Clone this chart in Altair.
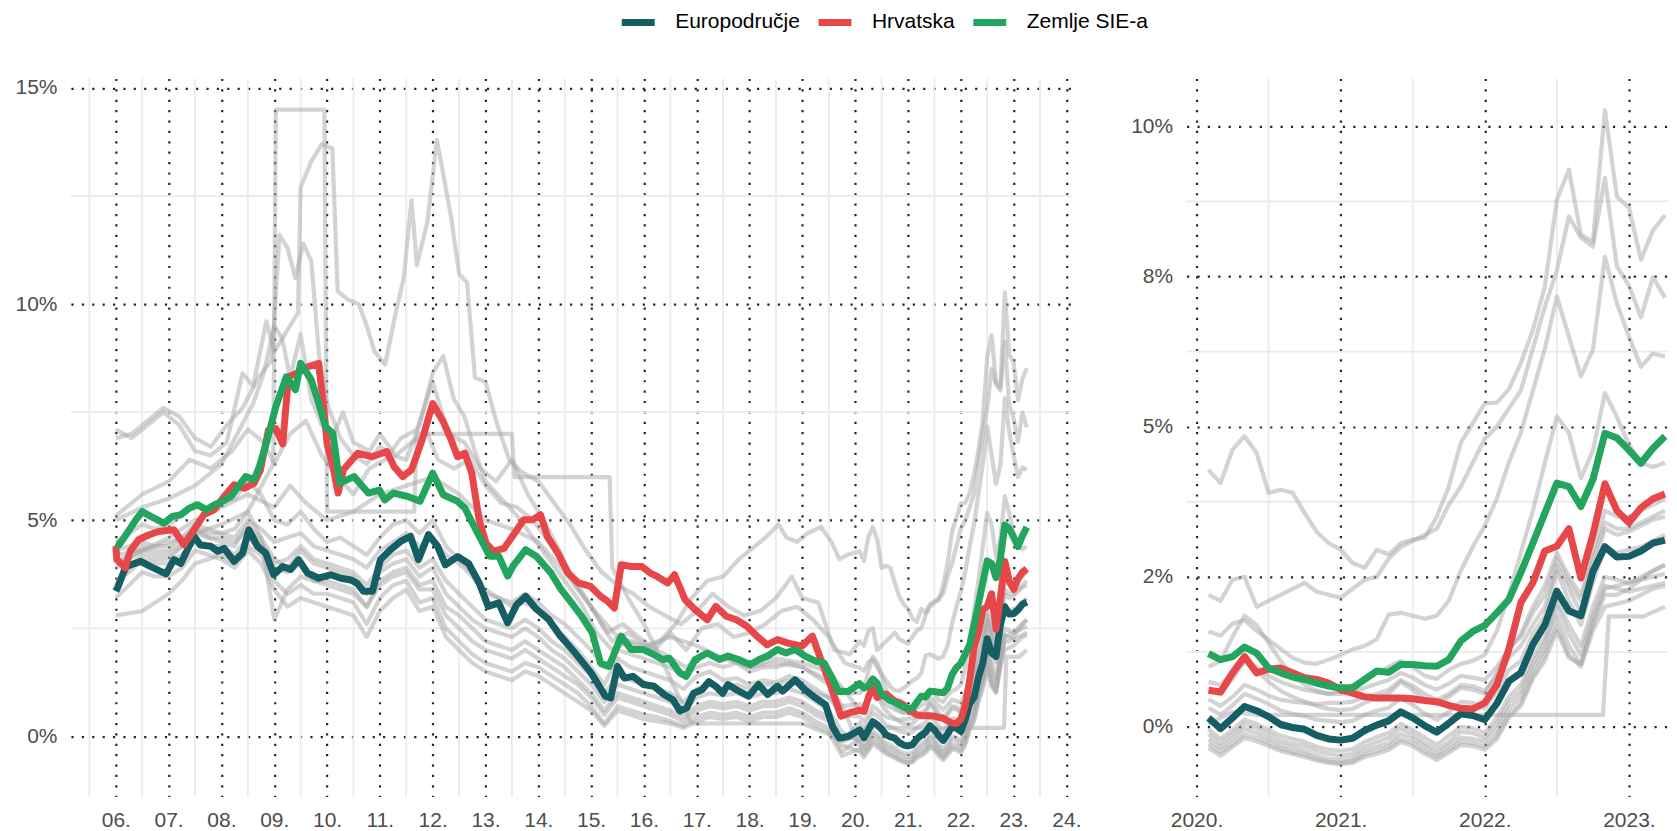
import altair as alt
import pandas as pd

FONT = "Liberation Sans"
DOT = "#1f2733"
MINOR = "#ebebeb"
GREY = "#a8a8a8"

SERIES_NAMES = ["Europodručje", "Hrvatska", "Zemlje SIE-a"]
SERIES_COLORS = ["#155e63", "#e8474a", "#23a55e"]

LEFT_X_VALUES = list(range(2006, 2025))
LEFT_X_LABELS = ["06.", "07.", "08.", "09.", "10.", "11.", "12.", "13.", "14.", "15.",
                 "16.", "17.", "18.", "19.", "20.", "21.", "22.", "23.", "24."]
LEFT_Y_VALUES = [0, 5, 10, 15]
LEFT_Y_LABELS = ["0%", "5%", "10%", "15%"]
RIGHT_X_VALUES = [2020, 2021, 2022, 2023]
RIGHT_X_LABELS = ["2020.", "2021.", "2022.", "2023."]
RIGHT_Y_VALUES = [0, 2.5, 5, 7.5, 10]
RIGHT_Y_LABELS = ["0%", "2%", "5%", "8%", "10%"]

LEFT_MINOR_X = [2005.5, 2006.5, 2007.5, 2008.5, 2009.5, 2010.5, 2011.5, 2012.5, 2013.5, 2014.5,
                2015.5, 2016.5, 2017.5, 2018.5, 2019.5, 2020.5, 2021.5, 2022.5, 2023.5]
LEFT_MINOR_Y = [2.5, 7.5, 12.5]
RIGHT_MINOR_X = [2020.5, 2021.5, 2022.5]
RIGHT_MINOR_Y = [1.25, 3.75, 6.25, 8.75]

# monthly dates Jan 2020 .. Mar 2023 (month-end, decimal years) and quarterly 2006-2019
MONTHS = [2020 + (k + 1) / 12 for k in range(39)]
QUARTERS = [2006 + q / 4 for q in range(56)]

# ---------------- main series ----------------
EA_EARLY = [(2006.0, 3.36), (2006.03, 3.43), (2006.19, 3.93), (2006.47, 4.05), (2006.66, 3.93),
            (2006.85, 3.82), (2006.95, 3.76), (2007.1, 4.09), (2007.23, 4.0), (2007.48, 4.63),
            (2007.6, 4.43), (2007.8, 4.4), (2007.93, 4.28), (2008.05, 4.35), (2008.24, 4.05),
            (2008.4, 4.24), (2008.52, 4.78), (2008.68, 4.4), (2008.84, 4.24), (2008.99, 3.74),
            (2009.16, 3.93), (2009.31, 3.86), (2009.46, 4.09), (2009.63, 3.78), (2009.84, 3.66),
            (2010.07, 3.74), (2010.26, 3.66), (2010.45, 3.62), (2010.57, 3.54), (2010.69, 3.36),
            (2010.86, 3.36), (2011.01, 4.09), (2011.2, 4.32), (2011.39, 4.51), (2011.58, 4.63),
            (2011.73, 4.09), (2011.92, 4.67), (2012.09, 4.4), (2012.24, 3.97), (2012.47, 4.16),
            (2012.68, 4.0), (2012.88, 3.55), (2013.05, 3.01), (2013.25, 3.09), (2013.42, 2.63),
            (2013.59, 3.05), (2013.76, 3.24), (2013.96, 2.95), (2014.2, 2.7), (2014.4, 2.35),
            (2014.69, 1.94), (2015.0, 1.47), (2015.27, 0.93), (2015.37, 0.89), (2015.5, 1.62),
            (2015.63, 1.35), (2015.79, 1.39), (2015.99, 1.2), (2016.19, 1.16), (2016.38, 0.97),
            (2016.55, 0.85), (2016.68, 0.59), (2016.81, 0.66), (2016.94, 1.0), (2017.1, 1.08),
            (2017.23, 1.27), (2017.36, 1.16), (2017.49, 1.0), (2017.59, 1.2), (2017.75, 1.08),
            (2017.98, 0.93), (2018.17, 1.2), (2018.34, 0.97), (2018.53, 1.16), (2018.63, 1.05),
            (2018.86, 1.31), (2019.05, 1.08), (2019.25, 0.89), (2019.44, 0.73), (2019.57, 0.23),
            (2019.7, -0.04), (2019.87, 0.0)]
EA_MONTHLY = [0.15, -0.03, 0.15, 0.34, 0.27, 0.17, 0.04, -0.01, -0.04, -0.14,
              -0.2, -0.22, -0.19, -0.06, 0.03, 0.1, 0.25, 0.15, 0.02, -0.09,
              0.06, 0.22, 0.19, 0.12, 0.39, 0.76, 0.9, 1.37, 1.7, 2.26,
              1.93, 1.85, 2.59, 3.0, 2.83, 2.84, 2.93, 3.06, 3.11]

HR_EARLY = [(2006.0, 4.4), (2006.02, 4.09), (2006.18, 3.9), (2006.27, 4.28), (2006.43, 4.55),
            (2006.62, 4.66), (2006.81, 4.74), (2007.1, 4.78), (2007.29, 4.43), (2007.48, 4.78),
            (2007.67, 5.13), (2007.86, 5.24), (2008.05, 5.55), (2008.24, 5.82), (2008.43, 5.74),
            (2008.62, 5.86), (2008.74, 6.17), (2008.89, 7.09), (2009.03, 7.12), (2009.16, 6.77),
            (2009.27, 8.32), (2009.43, 8.4), (2009.64, 8.55), (2009.84, 8.63), (2009.94, 7.56),
            (2010.0, 6.77), (2010.11, 6.24), (2010.21, 5.63), (2010.31, 6.17), (2010.58, 6.55),
            (2010.85, 6.47), (2011.13, 6.59), (2011.27, 6.24), (2011.43, 6.01), (2011.6, 6.17),
            (2011.8, 6.86), (2012.0, 7.7), (2012.2, 7.28), (2012.35, 6.86), (2012.47, 6.47),
            (2012.61, 6.55), (2012.74, 6.09), (2012.88, 5.01), (2013.01, 4.47), (2013.15, 4.28),
            (2013.35, 4.35), (2013.55, 4.7), (2013.72, 5.01), (2013.89, 5.01), (2014.04, 5.13),
            (2014.17, 4.63), (2014.37, 4.24), (2014.56, 3.78), (2014.76, 3.55), (2014.99, 3.47),
            (2015.18, 3.24), (2015.31, 3.13), (2015.44, 2.97), (2015.57, 3.97), (2015.76, 3.93),
            (2015.96, 3.93), (2016.12, 3.78), (2016.25, 3.7), (2016.45, 3.55), (2016.58, 3.74),
            (2016.78, 3.16), (2016.97, 2.93), (2017.2, 2.7), (2017.36, 3.01), (2017.56, 2.78),
            (2017.75, 2.7), (2017.95, 2.55), (2018.14, 2.32), (2018.33, 2.12), (2018.53, 2.24),
            (2018.73, 2.16), (2018.99, 2.09), (2019.19, 2.32), (2019.35, 1.78), (2019.54, 1.16),
            (2019.73, 0.47), (2019.9, 0.55)]
HR_MONTHLY = [0.61, 0.58, 0.9, 1.17, 0.9, 0.96, 0.98, 0.9, 0.82, 0.79,
              0.73, 0.62, 0.56, 0.5, 0.48, 0.48, 0.48, 0.47, 0.44, 0.42,
              0.36, 0.31, 0.3, 0.4, 0.7, 1.29, 2.07, 2.4, 2.93, 3.01,
              3.3, 2.48, 3.2, 4.05, 3.6, 3.4, 3.65, 3.8, 3.88]

CEE_EARLY = [(2006.0, 4.47), (2006.06, 4.43), (2006.19, 4.66), (2006.38, 5.01), (2006.5, 5.2),
             (2006.66, 5.09), (2006.79, 5.01), (2006.91, 4.93), (2007.07, 5.09), (2007.23, 5.13),
             (2007.39, 5.28), (2007.55, 5.36), (2007.71, 5.24), (2007.87, 5.36), (2008.02, 5.44),
             (2008.18, 5.55), (2008.34, 5.82), (2008.46, 6.01), (2008.62, 5.94), (2008.72, 6.25),
             (2008.85, 6.78), (2009.03, 7.63), (2009.23, 8.32), (2009.4, 8.02), (2009.5, 8.63),
             (2009.7, 8.25), (2009.84, 7.71), (2009.97, 7.17), (2010.11, 7.01), (2010.24, 5.86),
             (2010.51, 6.01), (2010.78, 5.63), (2010.99, 5.7), (2011.09, 5.47), (2011.26, 5.63),
             (2011.53, 5.55), (2011.76, 5.44), (2012.0, 6.09), (2012.2, 5.59), (2012.47, 5.44),
             (2012.61, 5.28), (2012.88, 4.63), (2013.08, 4.17), (2013.25, 4.17), (2013.42, 3.71),
             (2013.52, 3.94), (2013.76, 4.32), (2013.96, 4.17), (2014.24, 3.78), (2014.43, 3.4),
             (2014.63, 3.09), (2014.82, 2.78), (2015.02, 2.4), (2015.18, 1.69), (2015.34, 1.62),
             (2015.57, 2.32), (2015.76, 2.01), (2015.99, 2.01), (2016.19, 1.89), (2016.35, 1.78),
             (2016.48, 1.81), (2016.68, 1.47), (2016.8, 1.39), (2016.97, 1.78), (2017.2, 1.93),
             (2017.43, 1.78), (2017.59, 1.86), (2017.79, 1.78), (2018.01, 1.66), (2018.18, 1.78),
             (2018.34, 1.86), (2018.53, 2.01), (2018.69, 1.93), (2018.86, 2.01), (2019.05, 1.86),
             (2019.25, 1.74), (2019.41, 1.7), (2019.55, 1.39), (2019.68, 1.04), (2019.87, 1.04)]
CEE_MONTHLY = [1.22, 1.12, 1.17, 1.33, 1.23, 0.98, 0.9, 0.83, 0.79, 0.73,
               0.68, 0.65, 0.65, 0.79, 0.93, 0.91, 1.04, 1.04, 1.02, 1.01,
               1.12, 1.43, 1.59, 1.69, 1.9, 2.12, 2.57, 3.06, 3.56, 4.06,
               4.0, 3.67, 4.12, 4.89, 4.81, 4.61, 4.39, 4.64, 4.84]

# ---------------- grey (individual countries) ----------------
G1_EARLY = [(2006.0, 6.9), (2006.3, 7.0), (2006.6, 7.3), (2006.9, 7.6), (2007.2, 7.4), (2007.5, 6.9),
            (2007.8, 6.7), (2008.1, 7.2), (2008.4, 7.6), (2008.7, 8.3), (2008.95, 8.7), (2009.1, 11.6),
            (2009.25, 11.3), (2009.4, 10.6), (2009.55, 11.4), (2009.7, 11.0), (2009.85, 8.8),
            (2010.0, 7.7), (2010.25, 6.9), (2010.5, 6.5), (2010.75, 6.3), (2011.0, 6.7), (2011.25, 6.5),
            (2011.5, 6.4), (2011.75, 7.2), (2012.0, 8.4), (2012.2, 8.8), (2012.4, 7.8), (2012.6, 7.4),
            (2012.8, 6.6), (2013.0, 5.9), (2013.3, 5.5), (2013.6, 5.1), (2013.9, 4.6), (2014.2, 4.1),
            (2014.5, 3.6), (2014.8, 3.1), (2015.1, 2.4), (2015.4, 2.0), (2015.7, 2.2), (2016.0, 2.0),
            (2016.3, 2.2), (2016.6, 2.6), (2016.9, 3.2), (2017.2, 3.6), (2017.5, 3.7), (2017.8, 4.1),
            (2018.0, 4.3), (2018.3, 4.6), (2018.55, 4.9), (2018.7, 4.6), (2018.9, 4.5), (2019.1, 4.7),
            (2019.35, 4.85), (2019.55, 4.5), (2019.7, 4.1), (2019.85, 4.2)]
G1_MONTHLY = [4.28, 4.06, 4.62, 4.84, 4.56, 3.9, 3.95, 3.9, 3.56, 3.25,
              3.06, 2.95, 2.73, 2.65, 2.95, 2.87, 3.06, 3.12, 3.15, 3.5,
              4.0, 4.73, 5.06, 5.39, 5.4, 5.62, 6.06, 6.61, 7.33, 8.78,
              9.28, 8.2, 8.08, 10.27, 8.83, 8.65, 7.78, 8.27, 8.52]

G2_EARLY = [(2006.0, 7.1), (2006.3, 6.9), (2006.6, 7.2), (2006.9, 7.5), (2007.2, 7.2), (2007.5, 6.6),
            (2007.8, 6.5), (2008.1, 6.8), (2008.4, 8.4), (2008.6, 8.1), (2008.85, 9.6), (2009.0, 8.9),
            (2009.2, 9.3), (2009.45, 9.8), (2009.5, 12.7), (2009.7, 13.3), (2009.9, 13.7),
            (2010.1, 13.6), (2010.2, 10.3), (2010.4, 10.1), (2010.6, 10.0), (2010.75, 9.5),
            (2010.9, 8.9), (2011.1, 8.6), (2011.3, 9.8), (2011.45, 10.6), (2011.6, 12.4),
            (2011.7, 10.9), (2011.9, 11.9), (2012.08, 13.8), (2012.2, 13.0), (2012.35, 12.0),
            (2012.5, 10.7), (2012.65, 10.5), (2012.8, 8.3), (2013.0, 8.2), (2013.2, 7.3),
            (2013.45, 6.4), (2013.7, 6.1), (2014.0, 5.9), (2014.3, 5.4), (2014.6, 4.9), (2014.9, 4.3),
            (2015.2, 3.8), (2015.5, 3.5), (2015.8, 3.3), (2016.1, 3.0), (2016.4, 2.8), (2016.7, 2.6),
            (2017.0, 2.9), (2017.3, 3.3), (2017.6, 3.0), (2017.9, 2.8), (2018.2, 2.9), (2018.5, 3.2),
            (2018.8, 3.7), (2019.0, 3.2), (2019.3, 3.1), (2019.6, 2.0), (2019.9, 1.9)]
G2_MONTHLY = [2.2, 2.1, 2.45, 2.5, 2.0, 2.1, 2.2, 2.3, 2.4, 2.25,
              2.2, 2.15, 2.3, 2.45, 2.5, 2.8, 3.0, 3.1, 3.2, 3.3,
              3.7, 4.0, 4.4, 4.8, 5.0, 5.3, 5.6, 6.3, 7.0, 7.6,
              8.5, 8.15, 8.0, 9.14, 7.67, 7.35, 6.82, 7.49, 7.15]

G3_EARLY = [(2006.0, 5.1), (2006.5, 5.6), (2007.0, 5.9), (2007.4, 6.4), (2007.8, 6.2), (2008.2, 6.6),
            (2008.5, 7.1), (2008.8, 6.8), (2009.0, 6.3), (2009.3, 7.0), (2009.6, 7.3), (2009.9, 6.5),
            (2010.2, 6.0), (2010.5, 5.6), (2010.8, 6.2), (2011.1, 6.4), (2011.4, 6.9), (2011.7, 7.1),
            (2012.0, 8.2), (2012.3, 7.0), (2012.6, 6.8), (2012.9, 6.2), (2013.2, 5.9), (2013.5, 6.4),
            (2013.8, 5.6), (2014.1, 5.0), (2014.4, 4.3), (2014.7, 3.5), (2015.0, 3.0), (2015.3, 2.4),
            (2015.6, 2.6), (2015.9, 2.3), (2016.2, 2.0), (2016.5, 2.4), (2016.8, 2.0), (2017.1, 2.5),
            (2017.4, 2.6), (2017.7, 2.3), (2018.0, 2.4), (2018.3, 2.6), (2018.6, 2.9), (2018.9, 3.0),
            (2019.2, 2.7), (2019.5, 2.3), (2019.8, 1.7)]
G3_MONTHLY = [1.59, 1.52, 1.72, 1.78, 1.6, 1.45, 1.3, 1.15, 1.07, 1.05,
              1.12, 1.2, 1.29, 1.35, 1.46, 1.87, 1.9, 1.85, 1.8, 1.85,
              2.1, 2.6, 3.0, 3.35, 3.8, 4.4, 4.9, 5.6, 6.3, 7.17,
              6.5, 5.84, 6.28, 7.83, 7.05, 6.5, 6.0, 6.22, 6.17]

G4_EARLY = [(2006.0, 4.0), (2006.5, 4.3), (2007.0, 4.6), (2007.5, 5.0), (2008.0, 5.3), (2008.5, 5.6),
            (2009.0, 5.3), (2009.3, 5.8), (2009.6, 5.4), (2010.0, 5.0), (2010.5, 5.2), (2011.0, 5.6),
            (2011.5, 5.8), (2012.0, 6.0), (2012.5, 5.6), (2013.0, 5.0), (2013.5, 4.8), (2014.0, 4.5),
            (2014.5, 3.8), (2015.0, 3.0), (2015.5, 2.3), (2016.0, 2.1), (2016.5, 2.3), (2017.0, 2.1),
            (2017.5, 1.8), (2018.0, 1.6), (2018.5, 1.7), (2019.0, 1.6), (2019.5, 1.3), (2019.9, 1.0)]
G4_MONTHLY = [1.0, 1.1, 1.5, 1.85, 1.7, 1.4, 1.1, 0.85, 0.7, 0.6,
              0.55, 0.6, 0.7, 0.8, 0.9, 1.0, 1.1, 1.0, 0.85, 0.8,
              0.95, 1.05, 1.1, 1.2, 1.6, 2.2, 2.9, 3.6, 4.4, 5.17,
              4.9, 4.14, 4.6, 5.56, 5.16, 4.7, 4.4, 4.33, 4.4]

G5_EARLY = [(2006.0, 5.0), (2006.5, 5.3), (2007.0, 5.5), (2007.5, 5.8), (2008.0, 6.3), (2008.3, 7.0),
            (2008.6, 7.7), (2008.8, 8.4), (2009.0, 9.5), (2009.15, 9.2), (2009.3, 8.3), (2009.5, 9.3),
            (2009.7, 7.8), (2009.9, 7.2), (2010.1, 6.9), (2010.3, 7.5), (2010.5, 6.8), (2010.8, 6.6),
            (2011.0, 7.0), (2011.3, 6.5), (2011.6, 6.8), (2011.9, 7.0), (2012.1, 6.4), (2012.4, 6.2),
            (2012.7, 6.4), (2013.0, 5.8), (2013.3, 5.4), (2013.6, 5.3), (2013.9, 5.0), (2014.2, 4.5),
            (2014.5, 4.0), (2014.8, 3.4), (2015.1, 2.8), (2015.4, 2.2), (2015.7, 2.4), (2016.0, 2.1),
            (2016.4, 1.9), (2016.8, 1.6), (2017.2, 1.9), (2017.6, 1.8), (2018.0, 1.6), (2018.5, 1.8),
            (2019.0, 1.7), (2019.5, 1.5), (2019.9, 0.9)]
G5_MONTHLY = [0.6, 0.55, 0.8, 1.1, 0.95, 0.75, 0.6, 0.5, 0.42, 0.35,
              0.3, 0.28, 0.3, 0.4, 0.48, 0.55, 0.75, 0.62, 0.45, 0.38,
              0.5, 0.65, 0.62, 0.55, 0.9, 1.3, 1.55, 2.0, 2.35, 2.9,
              2.5, 2.2, 2.9, 3.6, 3.5, 3.5, 3.6, 3.7, 3.8]

G6_ALL = [(2006.0, 4.2), (2006.5, 4.3), (2007.0, 4.5), (2007.5, 4.7), (2008.0, 4.9), (2008.5, 5.2),
          (2008.98, 6.3), (2009.03, 14.5), (2009.95, 14.5), (2010.0, 5.2), (2011.65, 5.2),
          (2011.7, 7.0), (2013.5, 7.0), (2013.55, 6.0), (2015.35, 6.0), (2015.4, 3.9), (2015.7, 3.2),
          (2016.0, 2.6), (2016.4, 1.6), (2016.9, 0.3), (2019.0, 0.3), (2019.4, 0.1), (2019.8, -0.1),
          (2020.083, 0.05), (2020.25, 0.25), (2020.42, 0.2), (2022.82, 0.2), (2022.86, 1.84),
          (2023.1, 1.84), (2023.25, 2.0)]

B1_Q = [4.3, 4.4, 4.5, 4.4, 4.4, 4.6, 4.9, 4.8, 4.7, 4.6, 5.0, 4.8, 4.5, 4.6, 4.7, 4.4,
        4.3, 4.2, 4.1, 3.9, 4.3, 4.5, 4.7, 4.4, 4.6, 4.2, 4.0, 3.7, 3.3, 3.2, 3.0, 3.1,
        2.9, 2.6, 2.3, 2.0, 1.6, 1.2, 1.8, 1.6, 1.5, 1.4, 1.3, 1.1, 1.4, 1.5, 1.3, 1.35,
        1.2, 1.3, 1.25, 1.4, 1.3, 1.1, 0.9, 0.5]
B1_M = [0.46, 0.35, 0.5, 0.7, 0.62, 0.52, 0.45, 0.42, 0.4, 0.38, 0.4, 0.4, 0.42, 0.5, 0.55,
        0.62, 0.78, 0.68, 0.55, 0.45, 0.55, 0.7, 0.68, 0.6, 0.85, 1.15, 1.35, 1.7, 2.0, 2.68,
        2.3, 1.9, 2.6, 3.3, 3.2, 3.25, 3.35, 3.45, 3.5]
B2_Q = [3.6, 3.8, 4.1, 4.0, 4.0, 4.2, 4.5, 4.4, 4.4, 4.2, 4.6, 4.3, 3.9, 3.8, 4.0, 3.6,
        3.5, 3.4, 3.3, 3.0, 3.6, 3.8, 3.9, 3.5, 3.6, 3.0, 2.8, 2.5, 2.2, 2.1, 2.0, 2.2,
        2.0, 1.8, 1.6, 1.3, 1.0, 0.6, 1.0, 0.9, 0.8, 0.7, 0.6, 0.45, 0.7, 0.8, 0.75, 0.8,
        0.7, 0.8, 0.8, 0.9, 0.8, 0.6, 0.45, -0.1]
B2_M = [0.32, 0.2, 0.36, 0.55, 0.47, 0.38, 0.27, 0.22, 0.18, 0.12, 0.1, 0.08, 0.1, 0.2, 0.27,
        0.32, 0.47, 0.37, 0.22, 0.12, 0.25, 0.42, 0.4, 0.3, 0.6, 0.95, 1.1, 1.55, 1.85, 2.59,
        2.1, 1.7, 2.4, 3.0, 2.9, 2.95, 3.0, 3.1, 3.2]
B3_Q = [2.8, 2.85, 2.9, 3.1, 3.3, 3.6, 4.0, 4.1, 4.2, 4.0, 4.4, 4.2, 3.6, 3.3, 3.5, 3.3,
        3.3, 3.2, 3.1, 2.6, 3.2, 3.5, 3.6, 3.1, 3.2, 2.5, 2.2, 1.9, 1.7, 1.6, 1.5, 1.7,
        1.6, 1.4, 1.2, 1.0, 0.7, 0.3, 0.7, 0.6, 0.5, 0.45, 0.35, 0.25, 0.45, 0.55, 0.5, 0.55,
        0.45, 0.55, 0.55, 0.65, 0.55, 0.35, 0.2, -0.35]
B3_M = [-0.04, -0.2, -0.05, 0.12, 0.05, -0.05, -0.15, -0.2, -0.25, -0.33, -0.38, -0.4, -0.37,
        -0.25, -0.17, -0.1, 0.05, -0.05, -0.18, -0.3, -0.15, 0.0, -0.02, -0.1, 0.15, 0.5, 0.7,
        1.15, 1.5, 2.12, 1.7, 1.35, 2.0, 2.5, 2.45, 2.4, 2.45, 2.5, 2.55]
B4_Q = [3.5, 3.9, 4.2, 4.1, 4.1, 4.4, 4.8, 4.6, 4.5, 4.4, 4.9, 4.6, 4.1, 3.9, 4.3, 4.0,
        3.9, 3.8, 3.7, 3.3, 3.8, 4.0, 4.1, 3.7, 3.9, 3.3, 3.0, 2.7, 2.5, 2.4, 2.3, 2.5,
        2.3, 2.0, 1.8, 1.5, 1.2, 0.8, 1.2, 1.1, 1.0, 0.9, 0.8, 0.6, 0.9, 1.0, 0.95, 1.0,
        0.9, 1.0, 1.0, 1.1, 1.0, 0.8, 0.6, 0.1]
B4_M = [-0.12, -0.28, -0.12, 0.05, -0.02, -0.12, -0.23, -0.28, -0.32, -0.4, -0.45, -0.48,
        -0.45, -0.33, -0.25, -0.18, -0.03, -0.13, -0.27, -0.38, -0.25, -0.08, -0.1, -0.18, 0.05,
        0.4, 0.6, 1.05, 1.4, 2.01, 1.55, 1.2, 1.85, 2.35, 2.3, 2.25, 2.3, 2.35, 2.4]
B5_Q = [4.5, 4.7, 4.9, 4.8, 4.9, 5.1, 5.4, 5.3, 5.4, 5.5, 5.9, 5.6, 5.0, 4.9, 5.2, 4.8,
        4.5, 4.6, 4.4, 4.2, 4.6, 4.9, 5.0, 4.7, 5.0, 4.4, 4.1, 3.8, 3.4, 3.2, 3.1, 3.3,
        3.1, 2.8, 2.6, 2.3, 2.0, 1.6, 2.0, 1.9, 1.8, 1.7, 1.6, 1.4, 1.6, 1.7, 1.6, 1.7,
        1.5, 1.6, 1.6, 1.7, 1.6, 1.4, 1.2, 0.7]
B5_M = [-0.21, -0.35, -0.2, -0.03, -0.1, -0.2, -0.3, -0.35, -0.4, -0.48, -0.53, -0.55, -0.52,
        -0.4, -0.33, -0.27, -0.12, -0.2, -0.33, -0.45, -0.32, -0.18, -0.2, -0.25, -0.05, 0.3, 0.5,
        0.95, 1.3, 1.84, 1.35, 1.05, 1.7, 2.2, 2.2, 2.3, 2.45, 2.6, 2.7]
B6_Q = [3.2, 3.5, 3.8, 3.7, 3.7, 3.9, 4.3, 4.2, 4.1, 3.9, 4.3, 4.0, 3.4, 3.0, 3.2, 3.1,
        3.0, 2.9, 2.8, 2.3, 2.9, 3.2, 3.4, 2.9, 3.0, 2.3, 2.0, 1.7, 1.5, 1.4, 1.3, 1.5,
        1.4, 1.2, 1.0, 0.8, 0.6, 0.25, 0.6, 0.5, 0.4, 0.35, 0.3, 0.2, 0.35, 0.45, 0.4, 0.45,
        0.35, 0.45, 0.45, 0.55, 0.45, 0.25, 0.1, -0.45]
B6_M = [-0.29, -0.42, -0.28, -0.12, -0.18, -0.27, -0.36, -0.42, -0.46, -0.53, -0.58, -0.6,
        -0.57, -0.46, -0.4, -0.33, -0.2, -0.27, -0.4, -0.5, -0.38, -0.25, -0.27, -0.33, -0.15,
        0.2, 0.4, 0.85, 1.2, 1.68, 1.2, 1.0, 1.6, 2.0, 2.05, 2.1, 2.2, 2.3, 2.35]
B7_Q = [4.0, 4.2, 4.4, 4.3, 4.3, 4.5, 4.8, 4.7, 4.7, 4.8, 5.2, 4.6, 2.7, 3.4, 3.7, 3.6,
        3.6, 3.5, 3.4, 3.0, 3.5, 3.7, 3.8, 3.4, 3.4, 2.8, 2.5, 2.2, 2.0, 1.9, 1.8, 2.0,
        1.8, 1.6, 1.4, 1.2, 0.9, 0.5, 0.9, 0.8, 0.7, 0.6, 0.5, 0.35, 0.6, 0.7, 0.65, 0.7,
        0.6, 0.7, 0.7, 0.8, 0.7, 0.5, 0.35, -0.2]
B7_M = [-0.35, -0.48, -0.33, -0.18, -0.24, -0.32, -0.4, -0.45, -0.5, -0.56, -0.6, -0.62, -0.6,
        -0.5, -0.45, -0.38, -0.25, -0.32, -0.45, -0.55, -0.43, -0.3, -0.32, -0.38, -0.2, 0.15,
        0.35, 0.8, 1.1, 1.6, 1.15, 1.05, 1.75, 2.3, 2.35, 2.4, 2.5, 2.6, 2.7]
B8_Q = [3.9, 4.1, 4.3, 4.2, 4.2, 4.4, 4.7, 4.6, 4.6, 4.5, 4.8, 4.5, 4.0, 4.1, 4.4, 4.1,
        4.0, 3.9, 3.8, 3.5, 3.9, 4.2, 4.3, 3.9, 4.1, 3.6, 3.3, 3.0, 2.7, 2.6, 2.5, 2.7,
        2.5, 2.2, 2.0, 1.7, 1.4, 1.0, 1.4, 1.3, 1.2, 1.1, 1.0, 0.8, 1.1, 1.2, 1.1, 1.2,
        1.1, 1.2, 1.2, 1.3, 1.2, 1.0, 0.9, 0.7]
B8_M = [0.75, 0.7, 0.9, 1.1, 1.0, 0.85, 0.75, 0.68, 0.62, 0.58, 0.55, 0.55, 0.58, 0.65, 0.72,
        0.78, 0.9, 0.82, 0.7, 0.62, 0.72, 0.85, 0.82, 0.78, 1.0, 1.3, 1.5, 1.9, 2.2, 2.8,
        2.4, 2.1, 2.8, 3.4, 3.3, 3.3, 3.4, 3.5, 3.6]


# ---------------- assemble ----------------
def pairs_rows(name, kind, pairs):
    return [{"series": name, "kind": kind, "t": t, "v": v} for t, v in pairs]


def grid_rows(name, kind, ts, vs):
    return [{"series": name, "kind": kind, "t": t, "v": v} for t, v in zip(ts, vs)]


rows = []
for name, early, monthly in zip(SERIES_NAMES, [EA_EARLY, HR_EARLY, CEE_EARLY],
                                [EA_MONTHLY, HR_MONTHLY, CEE_MONTHLY]):
    rows += pairs_rows(name, "main", early) + grid_rows(name, "main", MONTHS, monthly)

for i, (early, monthly) in enumerate([(G1_EARLY, G1_MONTHLY), (G2_EARLY, G2_MONTHLY),
                                      (G3_EARLY, G3_MONTHLY), (G4_EARLY, G4_MONTHLY),
                                      (G5_EARLY, G5_MONTHLY)]):
    rows += pairs_rows(f"g{i}", "grey", early) + grid_rows(f"g{i}", "grey", MONTHS, monthly)
rows += pairs_rows("g_step", "grey", G6_ALL)
for i, (q, m) in enumerate([(B1_Q, B1_M), (B2_Q, B2_M), (B3_Q, B3_M), (B4_Q, B4_M),
                            (B5_Q, B5_M), (B6_Q, B6_M), (B7_Q, B7_M), (B8_Q, B8_M)]):
    rows += grid_rows(f"b{i}", "grey", QUARTERS, q) + grid_rows(f"b{i}", "grey", MONTHS, m)

df = pd.DataFrame(rows)
df_right = df[df.t >= 2020.05]

color_scale = alt.Scale(domain=SERIES_NAMES, range=SERIES_COLORS)
legend = alt.Legend(orient="none", legendX=554, legendY=-70, direction="horizontal", title=None,
                    symbolType="M-1.57,0H1.57", symbolStrokeWidth=7, symbolSize=441,
                    labelFont=FONT, labelFontSize=21, labelColor="#000000",
                    labelOffset=23, columnPadding=4, padding=0)


def arr_expr(labels):
    return "[" + ",".join("'" + s + "'" for s in labels) + "]"


def mk_axis(values, expr, pad):
    return alt.Axis(values=values, labelExpr=expr, title=None, ticks=False, domain=False,
                    grid=True, gridColor=DOT, gridDash=[2.2, 8.2], gridWidth=2.2, gridCap="butt",
                    labelFont=FONT, labelFontSize=21, labelColor="#4d4d4d", labelPadding=pad,
                    labelOverlap=False, labelFlush=False)


AX_LX = mk_axis(LEFT_X_VALUES, arr_expr(LEFT_X_LABELS) + "[round(datum.value - 2006)]", 13)
AX_LY = mk_axis(LEFT_Y_VALUES, arr_expr(LEFT_Y_LABELS) + "[round(datum.value / 5)]", 14)
AX_RX = mk_axis(RIGHT_X_VALUES, arr_expr(RIGHT_X_LABELS) + "[round(datum.value - 2020)]", 13)
AX_RY = mk_axis(RIGHT_Y_VALUES, arr_expr(RIGHT_Y_LABELS) + "[round(datum.value / 2.5)]", 14)

SC_LX = alt.Scale(domain=[2005.15, 2024.1], nice=False, zero=False)
SC_LY = alt.Scale(domain=[-1.39, 15.22], nice=False, zero=False)
SC_RX = alt.Scale(domain=[2019.931, 2023.271], nice=False, zero=False)
SC_RY = alt.Scale(domain=[-1.16, 10.8], nice=False, zero=False)


def panel(data, minor_x, minor_y, sx, sy, ax, ay, w, h):
    vx = alt.Chart(pd.DataFrame({"t": minor_x})).mark_rule(color=MINOR, strokeWidth=1.8).encode(
        x=alt.X("t:Q", scale=sx, axis=ax))
    hy = alt.Chart(pd.DataFrame({"v": minor_y})).mark_rule(color=MINOR, strokeWidth=1.8).encode(
        y=alt.Y("v:Q", scale=sy, axis=ay))
    grey = alt.Chart(data[data.kind == "grey"]).mark_line(
        color=GREY, opacity=0.5, strokeWidth=4.2, strokeJoin="round", clip=True).encode(
        x=alt.X("t:Q", scale=sx, axis=ax), y=alt.Y("v:Q", scale=sy, axis=ay), detail="series:N")
    main = alt.Chart(data[data.kind == "main"]).mark_line(
        strokeWidth=7, strokeJoin="round", clip=True).encode(
        x=alt.X("t:Q", scale=sx, axis=ax), y=alt.Y("v:Q", scale=sy, axis=ay),
        color=alt.Color("series:N", scale=color_scale, legend=legend))
    return alt.layer(vx, hy, grey, main).properties(width=w, height=h)


left = panel(df, LEFT_MINOR_X, LEFT_MINOR_Y, SC_LX, SC_LY, AX_LX, AX_LY, 1002, 719)
right = panel(df_right, RIGHT_MINOR_X, RIGHT_MINOR_Y, SC_RX, SC_RY, AX_RX, AX_RY, 482, 719)

chart = alt.hconcat(left, right, spacing=115, bounds="flush").resolve_scale(
    x="independent", y="independent", color="shared").resolve_legend(color="shared").properties(
    padding={"left": 6, "top": 0, "right": 0, "bottom": 0}).configure(font=FONT).configure_view(
    stroke=None)

chart.save("out.html", embed_options={"renderer": "svg", "actions": False})
